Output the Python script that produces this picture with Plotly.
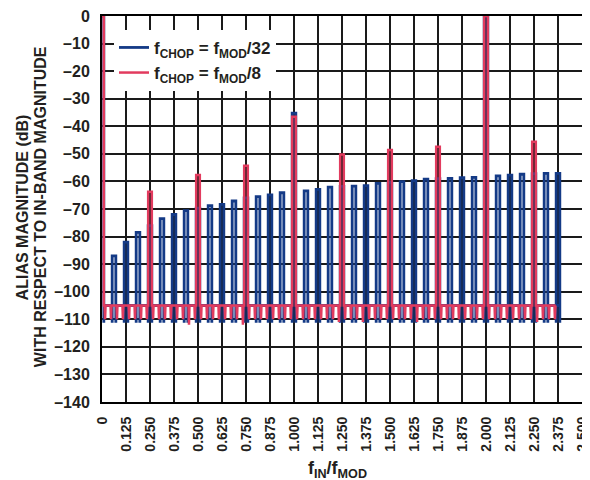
import plotly.graph_objects as go

# blue: f_CHOP = f_MOD/32 -> alias bands at k/16
blue_x = [0.0, 0.0625, 0.125, 0.1875, 0.25, 0.3125, 0.375, 0.4375, 0.5, 0.5625,
          0.625, 0.6875, 0.75, 0.8125, 0.875, 0.9375, 1.0, 1.0625, 1.125, 1.1875,
          1.25, 1.3125, 1.375, 1.4375, 1.5, 1.5625, 1.625, 1.6875, 1.75, 1.8125,
          1.875, 1.9375, 2.0, 2.0625, 2.125, 2.1875, 2.25, 2.3125, 2.375]
blue_y = [0.0, -87.0, -82.0, -78.5, -76.0, -73.5, -72.0, -70.6, -69.7, -68.8,
          -68.3, -67.1, -66.0, -65.5, -64.9, -64.1, -35.2, -63.4, -62.9, -62.1,
          -61.8, -61.7, -61.5, -60.7, -60.3, -60.1, -59.7, -59.2, -59.0, -58.9,
          -58.6, -58.5, 0.0, -58.0, -57.7, -57.4, -57.2, -57.1, -57.1]

# red: f_CHOP = f_MOD/8 -> alias bands at k/4
red_x = [0.0, 0.25, 0.5, 0.75, 1.0, 1.25, 1.5, 1.75, 2.0, 2.25]
red_y = [0.0, -63.7, -57.7, -54.3, -36.5, -50.2, -48.6, -47.4, 0.0, -45.6]

# noise floor dips between bands
teeth_x = [0.016, 0.047, 0.078, 0.109, 0.141, 0.172, 0.203, 0.234, 0.266, 0.297, 0.328,
           0.359, 0.391, 0.422, 0.453, 0.484, 0.516, 0.547, 0.578, 0.609, 0.641, 0.672,
           0.703, 0.734, 0.766, 0.797, 0.828, 0.859, 0.891, 0.922, 0.953, 0.984,
           1.016, 1.047, 1.078, 1.109, 1.141, 1.172, 1.203, 1.234, 1.266, 1.297, 1.328,
           1.359, 1.391, 1.422, 1.453, 1.484, 1.516, 1.547, 1.578, 1.609, 1.641, 1.672,
           1.703, 1.734, 1.766, 1.797, 1.828, 1.859, 1.891, 1.922, 1.953, 1.984,
           2.016, 2.047, 2.078, 2.109, 2.141, 2.172, 2.203, 2.234, 2.266, 2.297, 2.328,
           2.359]
red_teeth_y = [-110, -110, -110, -110, -110, -110, -110, -110, -110, -110, -110,
               -110, -110, -110, -112, -110, -110, -110, -110, -110, -110, -110,
               -110, -112, -110, -110, -110, -110, -110, -110, -110, -110,
               -110, -110, -110, -110, -110, -110, -110, -111, -110, -110, -110,
               -111, -110, -110, -110, -110, -110, -110, -110, -110, -111, -110,
               -110, -110, -110, -110, -110, -110, -110, -110, -110, -110,
               -110, -110, -110, -110, -110, -110, -110, -110, -111, -110, -110,
               -110]
blue_bar_bottom = -111.3

FLOOR = -105
X_END = 2.362


def build_path(px, py, tx, ty, bottom=None, w=0.0095, tw=0.0025):
    ev = []
    for x, y in zip(px, py):
        if bottom is None:
            pts = [(x - w, FLOOR), (x - w, y), (x + w, y), (x + w, FLOOR)]
        else:
            pts = [(x - w, FLOOR), (x - w, bottom), (x - w, y), (x + w, y),
                   (x + w, bottom), (x + w, FLOOR)]
        ev.append((x - w, pts))
    for x, y in zip(tx, ty):
        ev.append((x - tw, [(x - tw, FLOOR), (x, y), (x + tw, FLOOR)]))
    ev.sort(key=lambda e: e[0])
    xs, ys = [], []
    for _, pts in ev:
        for a, b in pts:
            xs.append(a)
            ys.append(b)
    xs.append(X_END)
    ys.append(FLOOR)
    return xs, ys


BLUE = '#143A86'
RED = '#E23B5E'
INK = '#231f20'

bx, by = build_path(blue_x, blue_y, [], [], bottom=blue_bar_bottom)
rx, ry = build_path(red_x, red_y, teeth_x, red_teeth_y)

fig = go.Figure()
fig.add_trace(go.Scatter(x=bx, y=by, mode='lines', line=dict(color=BLUE, width=2.8),
                         name='<b>f<sub>CHOP</sub> = f<sub>MOD</sub>/32</b>'))
fig.add_trace(go.Scatter(x=rx, y=ry, mode='lines', line=dict(color=RED, width=2.5),
                         name='<b>f<sub>CHOP</sub> = f<sub>MOD</sub>/8</b>'))

xt = [i * 0.125 for i in range(21)]
xtext = ['<b>0</b>'] + ['<b>%.3f</b>' % v for v in xt[1:]]
yt = list(range(-140, 1, 10))
ytext = ['<b>%s</b>' % (('–%d' % -v) if v < 0 else '0') for v in yt]

axis_style = dict(showgrid=True, gridcolor='#1a1a1a', gridwidth=1.5,
                  showline=True, linecolor='black', linewidth=2, mirror=True,
                  ticks='', zeroline=False, automargin=False, ticklabelstandoff=7,
                  ticklabeloverflow='allow')
fig.update_xaxes(range=[0, 2.5], tickvals=xt, ticktext=xtext, tickangle=-90,
                 tickfont=dict(size=14, color=INK), **axis_style)
fig.update_yaxes(range=[-140, 0], tickvals=yt, ticktext=ytext,
                 tickfont=dict(size=16, color=INK), **axis_style)

# axis titles
fig.add_annotation(text='<b>ALIAS MAGNITUDE (dB)</b>', textangle=-90,
                   xref='paper', yref='paper', x=-0.166, y=0.505,
                   xanchor='center', yanchor='middle',
                   showarrow=False, font=dict(size=16, color=INK))
fig.add_annotation(text='<b>WITH RESPECT TO IN-BAND MAGNITUDE</b>', textangle=-90,
                   xref='paper', yref='paper', x=-0.129, y=0.505,
                   xanchor='center', yanchor='middle',
                   showarrow=False, font=dict(size=16, color=INK))
fig.add_annotation(text='<b>f<sub>IN</sub>/f<sub>MOD</sub></b>',
                   xref='paper', yref='paper', x=0.49, y=-0.1736,
                   xanchor='center', yanchor='middle',
                   showarrow=False, font=dict(size=18, color=INK))

# page body has an 8px margin, so the figure is 582x472 and placed at (8, 8)
fig.update_layout(
    width=582, height=472,
    margin=dict(l=94, r=8, t=8, b=78),
    plot_bgcolor='white', paper_bgcolor='white',
    font=dict(family='Liberation Sans, Arial, sans-serif', color=INK),
    showlegend=True,
    legend=dict(x=0.025, y=0.964, xanchor='left', yanchor='top',
                bgcolor='white', borderwidth=0, itemwidth=30,
                font=dict(size=17, color=INK), tracegroupgap=0),
)

fig.write_html('out.html')
